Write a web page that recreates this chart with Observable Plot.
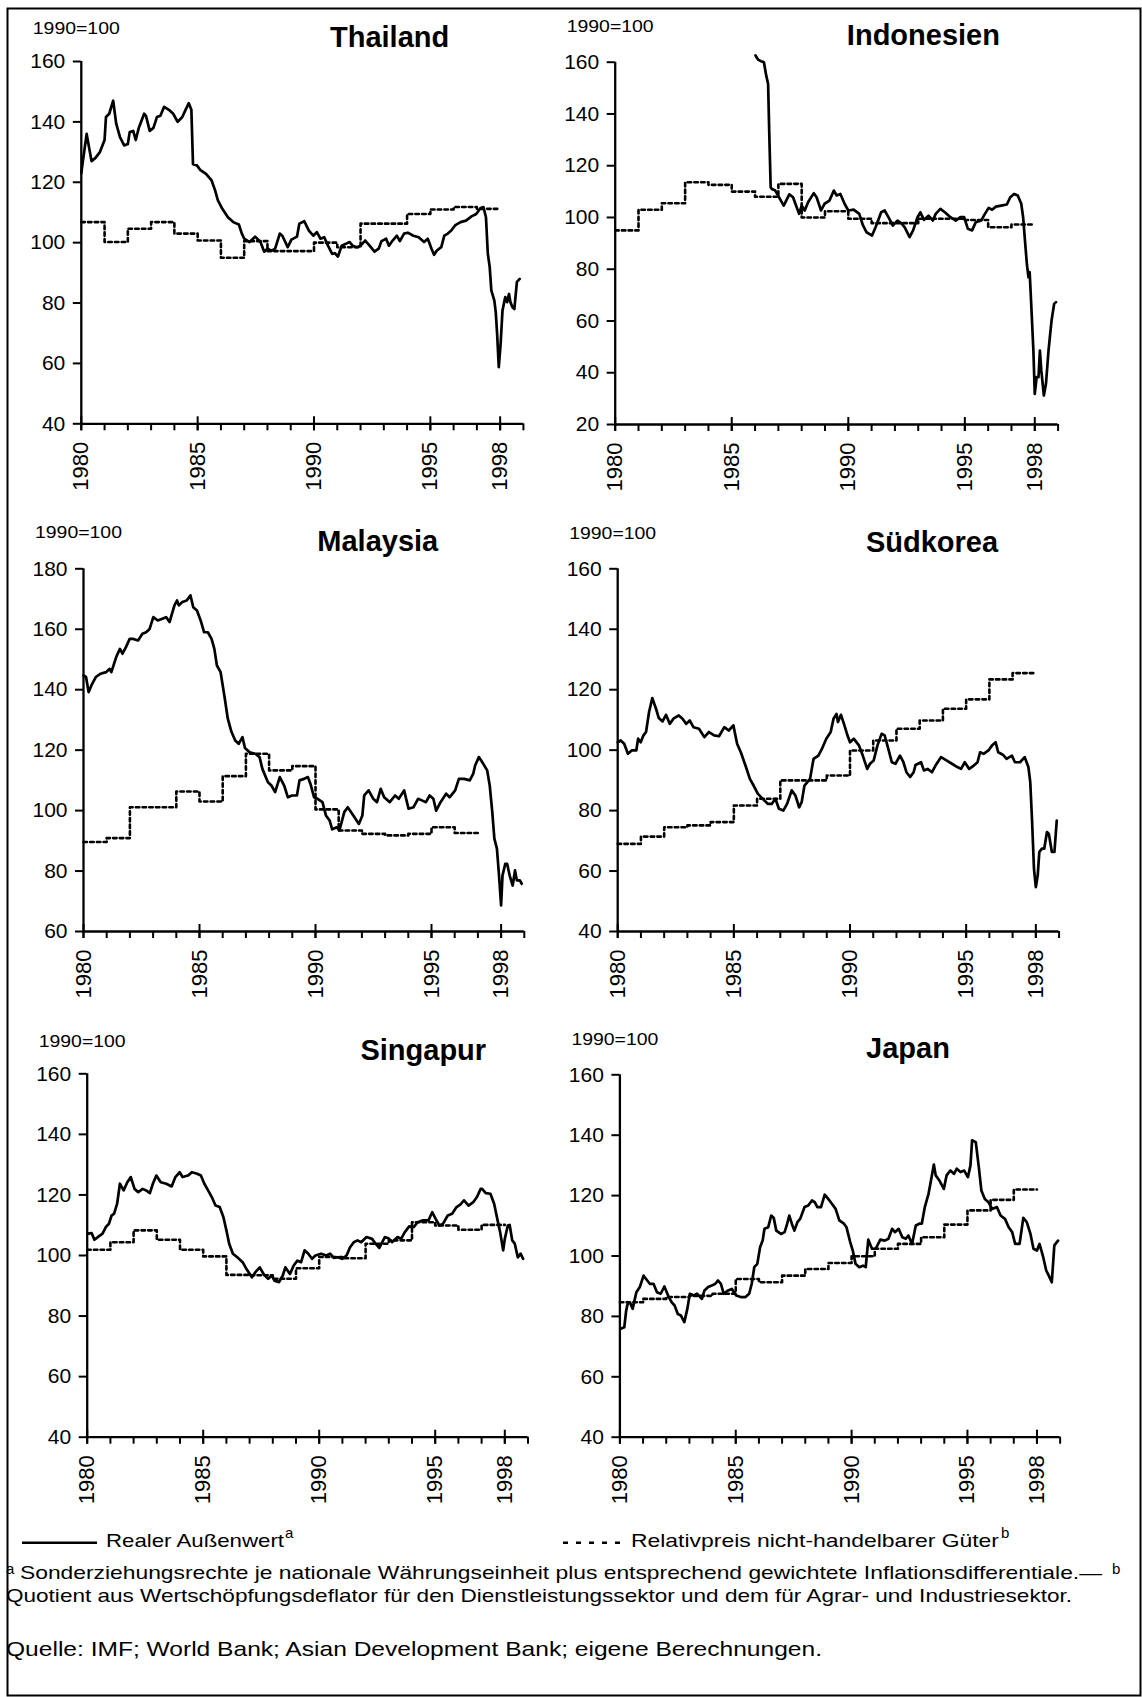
<!DOCTYPE html>
<html><head><meta charset="utf-8">
<script src="https://cdn.jsdelivr.net/npm/d3@7"></script>
<script src="https://cdn.jsdelivr.net/npm/@observablehq/plot@0.6"></script>
<style>
body{margin:0;background:#fff;}
#page{position:relative;width:1142px;height:1697px;overflow:hidden;background:#fff;font-family:"Liberation Sans",Arial,sans-serif;}
#page .panel{position:absolute;}
#overlay{position:absolute;left:0;top:0;pointer-events:none;}
</style></head><body><div id="page"></div>
<script>
// ---------- DATA ----------
const allYears = d3.range(1980, 2000);
const majorYears = [1980, 1985, 1990, 1995, 1998];
const relStartYear = 1980;

const thailandReal = [[1980.00,123],[1980.05,126],[1980.23,136],[1980.44,127],[1980.6,128],[1980.8,130],[1981.0,134],[1981.06,141.6],[1981.2,142.7],[1981.37,147],[1981.5,139.4],[1981.66,135],[1981.84,132.2],[1982.0,132.7],[1982.08,136.6],[1982.23,137],[1982.34,134],[1982.47,138],[1982.7,142.7],[1982.78,142],[1982.94,137],[1983.1,138],[1983.25,141.6],[1983.4,142],[1983.56,145],[1983.8,143.8],[1983.95,142.7],[1984.14,140],[1984.34,141.6],[1984.5,144.3],[1984.62,146.2],[1984.73,144],[1984.8,126],[1984.97,125.6],[1985.12,124],[1985.36,122.8],[1985.6,120.6],[1985.75,117.3],[1985.87,114],[1986.06,111.2],[1986.3,108.4],[1986.53,106.8],[1986.77,106],[1986.9,103],[1987.0,101.3],[1987.23,100.2],[1987.47,102],[1987.7,100.2],[1987.86,97],[1988.0,98],[1988.17,97.3],[1988.33,98],[1988.53,103],[1988.64,102.3],[1988.87,98.5],[1989.03,101],[1989.27,102],[1989.37,106.3],[1989.58,107.1],[1989.78,104],[1989.97,102.3],[1990.12,103.5],[1990.28,101.3],[1990.44,101.8],[1990.6,99],[1990.78,96.3],[1990.9,96.5],[1991.03,95.4],[1991.19,99],[1991.37,99.6],[1991.53,100.2],[1991.66,99],[1991.84,98.5],[1992.0,99],[1992.2,100.7],[1992.39,99],[1992.6,97],[1992.78,98],[1992.9,100.5],[1993.1,101.3],[1993.22,99],[1993.38,100.7],[1993.56,102.3],[1993.69,100.5],[1993.87,103],[1994.03,103.3],[1994.27,102.3],[1994.5,101.8],[1994.73,100.2],[1994.89,101.3],[1995.05,98],[1995.16,96],[1995.28,97.4],[1995.47,98.5],[1995.6,102.3],[1995.75,103],[1995.9,104],[1996.06,105.7],[1996.3,106.8],[1996.53,107.3],[1996.77,108.7],[1996.97,109.5],[1997.16,111.5],[1997.28,111.8],[1997.39,108.4],[1997.47,96.3],[1997.55,92],[1997.62,84.2],[1997.75,80.8],[1997.81,77],[1997.87,69.8],[1997.94,58.8],[1998.02,66.5],[1998.1,77.5],[1998.22,82],[1998.3,80.3],[1998.38,83],[1998.44,80.3],[1998.53,78.6],[1998.61,78],[1998.72,87],[1998.84,88]];
const thailandRel = [106.8,100.2,104.6,106.8,103,100.7,95,100.5,97.2,97.2,100,98.5,106.3,106.3,109.5,111,111.8,111.2];

const indonesiaReal = [[1986.02,162.6],[1986.13,161],[1986.25,160.4],[1986.38,160],[1986.48,154.8],[1986.56,151.6],[1986.61,132.3],[1986.67,111.7],[1986.72,111],[1986.87,110.4],[1987.03,107.8],[1987.23,104.6],[1987.47,108.9],[1987.63,107.8],[1987.73,105.3],[1987.89,101.4],[1988.0,104.6],[1988.13,102.7],[1988.28,106],[1988.52,109.4],[1988.64,107.8],[1988.83,102.7],[1988.98,105.3],[1989.19,106.5],[1989.38,110.4],[1989.5,108.5],[1989.66,109.1],[1989.84,105.3],[1990.0,102.7],[1990.23,103],[1990.47,101.4],[1990.63,96.9],[1990.78,94.3],[1991.02,93],[1991.17,96.2],[1991.41,102],[1991.56,102.7],[1991.72,100.1],[1991.91,96.9],[1992.11,98.8],[1992.27,97.8],[1992.42,96.2],[1992.63,92.4],[1992.78,95],[1992.97,100.1],[1993.09,102],[1993.25,99.1],[1993.44,100.7],[1993.63,98.8],[1993.75,101.4],[1993.95,103.3],[1994.14,102],[1994.38,100.1],[1994.61,98.8],[1994.81,100.1],[1994.97,100.1],[1995.13,95.6],[1995.31,95],[1995.47,98.2],[1995.7,98.8],[1995.86,101.4],[1996.02,103.7],[1996.17,103],[1996.33,104.2],[1996.56,104.6],[1996.8,105],[1996.95,107.8],[1997.11,109.1],[1997.27,108.5],[1997.42,105.3],[1997.5,100.1],[1997.58,91],[1997.66,82.1],[1997.73,76.9],[1997.78,78.9],[1997.84,67.9],[1997.94,48.6],[1998.0,31.8],[1998.08,38.3],[1998.16,38.3],[1998.22,48.6],[1998.28,40.9],[1998.39,31.2],[1998.48,35.7],[1998.59,48.6],[1998.72,60.2],[1998.83,66.6],[1998.91,67.3]];
const indonesiaRel = [95,103,105.5,113.6,112.6,110,108,113,100,102.4,99.5,97.8,97.8,99.5,99.5,99,96.2,97.3];

const malaysiaReal = [[1980.0,144.7],[1980.11,144.2],[1980.22,139.2],[1980.34,141.4],[1980.53,144.2],[1980.74,145.3],[1980.97,145.8],[1981.13,146.9],[1981.2,145.8],[1981.41,150.8],[1981.57,153.5],[1981.68,151.9],[1981.83,154.1],[1981.99,156.8],[1982.15,156.8],[1982.35,156.3],[1982.54,158.5],[1982.7,159],[1982.85,160.1],[1983.01,164],[1983.2,162.9],[1983.4,163.5],[1983.56,164],[1983.71,162.4],[1983.92,167.9],[1984.03,169.5],[1984.11,167.9],[1984.26,169],[1984.45,169.5],[1984.61,171.2],[1984.73,167.3],[1984.89,166.2],[1985.05,162.9],[1985.2,159],[1985.36,159],[1985.52,156.8],[1985.64,153.5],[1985.75,148],[1985.91,145.8],[1986.07,138.1],[1986.22,130.4],[1986.38,126],[1986.54,123.2],[1986.69,122.1],[1986.85,124.3],[1986.96,120.7],[1987.16,119.3],[1987.4,118.8],[1987.59,117.7],[1987.71,113.8],[1987.95,109.4],[1988.1,108.3],[1988.26,106.1],[1988.46,111.1],[1988.65,108.3],[1988.81,104.4],[1988.99,105],[1989.2,105],[1989.31,110],[1989.51,110.5],[1989.67,111.1],[1989.78,108.9],[1989.94,104.4],[1990.09,103.9],[1990.3,102.8],[1990.45,98.4],[1990.61,96.7],[1990.72,93.8],[1990.92,94.5],[1991.03,93.4],[1991.24,99.5],[1991.39,101.1],[1991.63,98.4],[1991.87,95.6],[1992.02,98.4],[1992.1,105],[1992.29,106.7],[1992.49,103.9],[1992.65,102.8],[1992.81,107.2],[1992.96,104.4],[1993.2,102.8],[1993.43,105],[1993.59,103.9],[1993.82,106.7],[1994.01,100.6],[1994.22,101.1],[1994.42,103.9],[1994.61,103.3],[1994.76,102.8],[1994.92,105],[1995.08,103.9],[1995.2,100],[1995.39,102.8],[1995.63,105.6],[1995.78,104.4],[1996.02,106.7],[1996.18,110.5],[1996.41,110.5],[1996.65,110],[1996.8,112.2],[1996.88,114.9],[1997.04,117.7],[1997.19,116],[1997.4,113.3],[1997.51,108.3],[1997.62,99.5],[1997.71,90.7],[1997.82,87.4],[1997.9,79.6],[1998.0,68.6],[1998.06,78.5],[1998.18,82.4],[1998.26,82.4],[1998.37,78.5],[1998.5,75.2],[1998.6,80.2],[1998.68,76.9],[1998.81,76.9],[1998.89,75.8]];
const malaysiaRel = [89.6,90.9,101.1,101.1,106.3,103,111.4,118.8,113.3,114.7,100.4,93.4,92.3,91.8,92.3,94.5,92.6];

const suedkoreaReal = [[1980.0,102.6],[1980.13,103.2],[1980.28,102.1],[1980.44,98.8],[1980.6,99.9],[1980.8,99.9],[1980.88,103.8],[1980.99,102.6],[1981.11,104.9],[1981.22,106],[1981.35,112.6],[1981.49,117.2],[1981.65,113.7],[1981.77,110.6],[1981.93,109.5],[1982.08,111.7],[1982.24,108.7],[1982.4,110.4],[1982.63,111.5],[1982.79,110.4],[1982.95,108.7],[1983.1,109.8],[1983.26,107.6],[1983.5,107.1],[1983.73,104.3],[1983.93,106],[1984.15,104.9],[1984.36,104.6],[1984.59,107.6],[1984.78,106.5],[1984.98,108.2],[1985.14,102.1],[1985.3,99.3],[1985.5,94.9],[1985.69,90.5],[1985.85,88.3],[1986.03,85.6],[1986.24,83.9],[1986.47,82.2],[1986.63,82.2],[1986.79,83.9],[1986.94,80.6],[1987.13,80],[1987.29,82.2],[1987.49,86.7],[1987.65,85],[1987.81,81.1],[1987.92,82.8],[1988.04,88.3],[1988.28,90.5],[1988.43,97.1],[1988.64,98.2],[1988.79,100.4],[1988.98,103.8],[1989.17,106],[1989.29,110.4],[1989.42,112],[1989.48,109.3],[1989.61,111.7],[1989.76,108.2],[1989.89,104.9],[1990.0,102.6],[1990.16,103.8],[1990.39,101.5],[1990.55,98.2],[1990.74,93.8],[1990.86,95.5],[1991.02,96.6],[1991.18,101.5],[1991.36,105.4],[1991.49,104.9],[1991.65,100.4],[1991.8,96],[1991.96,95.5],[1992.15,98.2],[1992.3,96],[1992.43,92.7],[1992.59,91.1],[1992.74,92.7],[1992.82,95.1],[1993.06,96],[1993.18,93.3],[1993.34,93.8],[1993.53,92.7],[1993.68,94.9],[1993.92,97.7],[1994.15,96.6],[1994.39,95.5],[1994.62,94.4],[1994.78,93.8],[1994.94,96],[1995.13,93.8],[1995.33,94.9],[1995.49,96],[1995.6,99.3],[1995.75,98.8],[1995.96,99.9],[1996.11,101.5],[1996.27,102.6],[1996.38,99.3],[1996.58,98.5],[1996.74,97.1],[1996.97,98.2],[1997.1,96],[1997.32,96],[1997.52,97.7],[1997.68,94.4],[1997.76,89.4],[1997.84,76.2],[1997.92,60.7],[1998.0,54.7],[1998.08,58.5],[1998.15,66.3],[1998.26,67.4],[1998.36,67.4],[1998.48,72.9],[1998.56,72.3],[1998.69,66.3],[1998.8,66.3],[1998.9,76.7]];
const suedkoreaRel = [69,71.4,74.5,75.1,76.2,81.7,83.9,90,90,91.6,99.9,103.2,107.1,109.8,113.7,116.8,123.4,125.5];

const singapurReal = [[1980.03,107.2],[1980.19,107.4],[1980.31,105.2],[1980.5,106.3],[1980.66,107.2],[1980.82,109.6],[1980.94,110.5],[1981.05,113.2],[1981.16,113.8],[1981.29,117.1],[1981.41,123.7],[1981.57,121.5],[1981.73,124.2],[1981.88,125.9],[1982.04,122],[1982.2,120.9],[1982.39,122],[1982.54,121.5],[1982.7,120.6],[1982.83,123.7],[1982.98,126.4],[1983.17,124.2],[1983.41,123.7],[1983.64,122.8],[1983.8,125.9],[1983.99,127.5],[1984.11,125.9],[1984.35,126.4],[1984.51,127.5],[1984.74,127],[1984.9,126.4],[1985.05,123.7],[1985.21,121.5],[1985.37,119.3],[1985.53,116.5],[1985.71,116],[1985.87,112.7],[1986.0,108.3],[1986.12,103.9],[1986.28,100.6],[1986.47,99.4],[1986.7,97.8],[1986.86,95.6],[1987.1,92.8],[1987.25,94.5],[1987.44,96.1],[1987.6,93.9],[1987.8,92.3],[1987.96,93.4],[1988.07,91.7],[1988.27,91.2],[1988.43,93.4],[1988.54,96.1],[1988.74,93.9],[1988.9,96.7],[1989.06,98.3],[1989.22,97.8],[1989.37,101.7],[1989.53,100.6],[1989.69,98.9],[1989.84,100],[1990.08,100.6],[1990.31,100],[1990.47,100.6],[1990.63,99.2],[1990.78,99.4],[1990.99,98.9],[1991.18,100],[1991.33,102.7],[1991.49,104.4],[1991.65,105],[1991.81,104.4],[1992.04,106.1],[1992.28,105.5],[1992.43,103.9],[1992.59,102.5],[1992.83,106.1],[1992.98,105.7],[1993.14,104.4],[1993.38,106.1],[1993.53,105.5],[1993.69,107.7],[1993.88,109.6],[1994.08,109.4],[1994.24,111],[1994.47,111.6],[1994.71,111.6],[1994.87,114.3],[1995.02,112.1],[1995.18,109.9],[1995.34,110.5],[1995.54,113.2],[1995.73,113.8],[1995.92,116],[1996.08,116.8],[1996.24,118.2],[1996.44,116.5],[1996.64,117.6],[1996.8,119.3],[1996.96,122],[1997.02,122],[1997.18,120.6],[1997.38,120.4],[1997.54,117.1],[1997.69,111.6],[1997.8,107.7],[1997.93,101.7],[1998.0,105.5],[1998.13,109.9],[1998.21,110.1],[1998.32,105],[1998.43,103.9],[1998.56,99.4],[1998.68,100.6],[1998.79,98.9]];
const singapurRel = [101.9,104.4,108.3,105.2,101.9,99.7,93.6,93.5,92.3,95.8,99.5,99.1,103.9,105,111,109.9,108.5,110.1];

const japanReal = [[1980.03,75.9],[1980.19,76.4],[1980.27,81.9],[1980.35,84.7],[1980.46,84.2],[1980.55,82.5],[1980.71,88],[1980.86,89.7],[1981.02,93.5],[1981.13,92.4],[1981.29,90.8],[1981.45,90.8],[1981.6,88],[1981.76,87.5],[1981.92,89.9],[1982.08,86.9],[1982.23,84.7],[1982.36,83.6],[1982.5,80.8],[1982.63,80.3],[1982.78,78.1],[1982.91,82.5],[1983.02,87.5],[1983.18,86.9],[1983.33,87.5],[1983.54,85.8],[1983.65,88.6],[1983.81,89.7],[1983.96,90.2],[1984.12,90.8],[1984.23,91.9],[1984.36,90.8],[1984.48,87.5],[1984.67,88.6],[1984.83,89.1],[1985.02,86.9],[1985.22,86.4],[1985.42,86.4],[1985.58,87.5],[1985.69,90.8],[1985.8,96.3],[1985.93,97.4],[1986.05,102.9],[1986.16,105.1],[1986.24,109],[1986.4,109.5],[1986.53,113.4],[1986.64,112.6],[1986.75,108.4],[1986.95,107.3],[1987.11,107.9],[1987.22,110.7],[1987.31,113.4],[1987.42,110.7],[1987.53,108.4],[1987.66,111.2],[1987.78,112.3],[1987.97,116.2],[1988.13,116.7],[1988.29,118.4],[1988.41,117.8],[1988.52,116.2],[1988.68,116.2],[1988.84,120.3],[1988.99,118.9],[1989.15,117.3],[1989.31,115.6],[1989.47,111.8],[1989.67,110.7],[1989.78,109.5],[1989.94,104.6],[1990.05,101.8],[1990.17,97.4],[1990.33,96.3],[1990.49,96.8],[1990.61,96.3],[1990.72,105.4],[1990.88,102.4],[1991.04,102.4],[1991.24,105.4],[1991.43,105.1],[1991.59,105.7],[1991.75,109],[1991.87,107.9],[1992.03,109],[1992.19,106.2],[1992.34,105.7],[1992.45,106.8],[1992.61,104],[1992.77,110.1],[1992.92,110.7],[1993.03,110.7],[1993.16,116.2],[1993.32,120.6],[1993.44,125.6],[1993.55,130.3],[1993.63,126.7],[1993.79,125],[1993.98,122.2],[1994.1,126.7],[1994.26,128.3],[1994.42,127.2],[1994.54,128.9],[1994.7,127.8],[1994.86,128.3],[1995.02,126.1],[1995.13,130],[1995.2,138.3],[1995.36,137.7],[1995.49,129.4],[1995.6,121.7],[1995.75,118.9],[1995.91,117.8],[1996.07,115.6],[1996.27,116.2],[1996.43,113.4],[1996.62,112.3],[1996.78,109.5],[1996.93,107.9],[1997.06,104],[1997.25,104],[1997.41,112.6],[1997.56,111.2],[1997.72,107.3],[1997.85,102.4],[1998.0,101.8],[1998.11,104],[1998.27,99.6],[1998.4,95.2],[1998.51,93.5],[1998.64,91.3],[1998.75,103.5],[1998.91,105.1]];
const japanRel = [84.7,85.8,86.4,86.8,87.5,92.4,91.3,93.5,95.7,97.7,99.9,102.4,104,106.2,110.4,115.1,118.6,122];

const titles = ["Thailand","Indonesien","Malaysia","Südkorea","Singapur","Japan"];
const baseLabel = "1990=100";
const ticks40 = [40,60,80,100,120,140,160];
const ticks20 = [20,40,60,80,100,120,140,160];
const ticks60 = [60,80,100,120,140,160,180];
const legendReal = "Realer Außenwert";
const legendRel = "Relativpreis nicht-handelbarer Güter";
const note1 = "Sonderziehungsrechte je nationale Währungseinheit plus entsprechend gewichtete Inflationsdifferentiale.—";
const note2 = "Quotient aus Wertschöpfungsdeflator für den Dienstleistungssektor und dem für Agrar- und Industriesektor.";
const source = "Quelle: IMF; World Bank; Asian Development Bank; eigene Berechnungen.";

// ---------- LAYOUT ----------
const panels = [
  {title:titles[0], real:thailandReal,  rel:thailandRel,  yDomain:[40,160], yTicks:ticks40, left:0,   top:0,    x0:80.8,  ppy:23.27, yTop:61,    yBottom:423.3, tx:389.6, ty:46.7},
  {title:titles[1], real:indonesiaReal, rel:indonesiaRel, yDomain:[20,160], yTicks:ticks20, left:571, top:0,    x0:614.7, ppy:23.31, yTop:61.7,  yBottom:424,   tx:923.4, ty:45},
  {title:titles[2], real:malaysiaReal,  rel:malaysiaRel,  yDomain:[60,180], yTicks:ticks60, left:0,   top:505,  x0:83,    ppy:23.2,  yTop:568.3, yBottom:931,   tx:377.8, ty:551},
  {title:titles[3], real:suedkoreaReal, rel:suedkoreaRel, yDomain:[40,160], yTicks:ticks40, left:571, top:505,  x0:617.2, ppy:23.23, yTop:568.3, yBottom:931,   tx:932,   ty:551.7},
  {title:titles[4], real:singapurReal,  rel:singapurRel,  yDomain:[40,160], yTicks:ticks40, left:0,   top:1010, x0:86.7,  ppy:23.2,  yTop:1073.3,yBottom:1436.7,tx:423.3, ty:1060},
  {title:titles[5], real:japanReal,     rel:japanRel,     yDomain:[40,160], yTicks:ticks40, left:571, top:1010, x0:619.4, ppy:23.17, yTop:1074.3,yBottom:1436.7,tx:908,   ty:1058.3}
];

const FONT = "Liberation Sans, Arial, Helvetica, sans-serif";
const DASH = "3.5,3.2";
const LEGEND_DASH = "5,8";
const page = document.getElementById("page");
const PW = 571, PH = 505;

for (const p of panels) {
  const relSteps = p.rel.map((v, i) => ({x: relStartYear + i, y: v}));
  relSteps.push({x: relStartYear + p.rel.length, y: p.rel[p.rel.length - 1]});
  const mL = p.x0 - p.left;
  const mR = PW - (mL + 19 * p.ppy);
  const mT = p.yTop - p.top;
  const mB = PH - (p.yBottom - p.top);
  const chart = Plot.plot({
    width: PW, height: PH,
    marginLeft: mL, marginRight: mR, marginTop: mT, marginBottom: mB,
    x: {domain: [1980, 1999], axis: null},
    y: {domain: p.yDomain, axis: null},
    style: {background: "none", overflow: "visible", fontFamily: FONT, color: "black"},
    marks: [
      Plot.line(relSteps, {x: "x", y: "y", curve: "step-after", stroke: "black", strokeWidth: 2.6, strokeDasharray: DASH}),
      Plot.line(p.real, {x: d => d[0], y: d => d[1], stroke: "black", strokeWidth: 2.7, strokeLinejoin: "round"}),
      Plot.ruleX([1980], {stroke: "black", strokeWidth: 2.3}),
      Plot.ruleY([p.yDomain[0]], {stroke: "black", strokeWidth: 2.3}),
      Plot.axisY({ticks: p.yTicks, tickSize: 8, tickPadding: 8, fontSize: 21, strokeWidth: 2, tickFormat: d => String(d), label: null}),
      Plot.axisX({ticks: allYears, tickSize: 7, strokeWidth: 2, tickFormat: () => "", label: null}),
      Plot.axisX({ticks: majorYears, tickSize: 14, dy: -7, strokeWidth: 2, tickFormat: () => "", label: null}),
      Plot.axisX({ticks: majorYears, tickSize: 0, tickPadding: 18, tickRotate: -90, fontSize: 22, tickFormat: d => String(d), label: null})
    ]
  });
  chart.classList.add("panel");
  chart.style.left = p.left + "px";
  chart.style.top = p.top + "px";
  page.appendChild(chart);
}

// ---------- OVERLAY: titles, base labels, legend, notes, frame ----------
const ov = d3.select(page).append("svg").attr("id", "overlay")
  .attr("width", 1142).attr("height", 1697)
  .style("font-family", FONT);

ov.append("rect").attr("x", 7.5).attr("y", 8.5).attr("width", 1133).attr("height", 1687)
  .attr("fill", "none").attr("stroke", "black").attr("stroke-width", 2);

for (const p of panels) {
  ov.append("text").attr("x", p.tx).attr("y", p.ty).attr("text-anchor", "middle")
    .attr("font-weight", "bold").attr("font-size", 29).text(p.title);
  ov.append("text").attr("x", p.x0 - 48).attr("y", p.ty - 13)
    .attr("font-size", 17).attr("textLength", 87).attr("lengthAdjust", "spacingAndGlyphs").text(baseLabel);
}

function txt(x, y, s, size, len) {
  const t = ov.append("text").attr("x", x).attr("y", y).attr("font-size", size).text(s);
  if (len) t.attr("textLength", len).attr("lengthAdjust", "spacingAndGlyphs");
  return t;
}
// legend
ov.append("line").attr("x1", 22).attr("x2", 97).attr("y1", 1542.7).attr("y2", 1542.7)
  .attr("stroke", "black").attr("stroke-width", 2.5);
txt(106, 1547, legendReal, 19, 178);
txt(285, 1538, "a", 15);
ov.append("line").attr("x1", 563).attr("x2", 626).attr("y1", 1542.7).attr("y2", 1542.7)
  .attr("stroke", "black").attr("stroke-width", 2.5).attr("stroke-dasharray", LEGEND_DASH);
txt(631, 1547, legendRel, 19, 368);
txt(1001, 1538, "b", 15);
// footnotes
txt(6, 1574, "a", 15);
txt(20, 1579, note1, 19, 1082);
txt(1112, 1574, "b", 15);
txt(6, 1602, note2, 19, 1066);
txt(6, 1656, source, 21, 816);
</script>
</body></html>
